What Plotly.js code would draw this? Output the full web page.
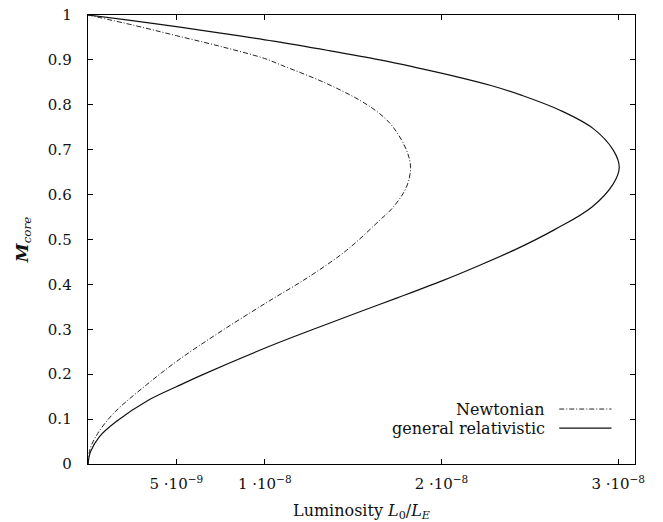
<!DOCTYPE html>
<html>
<head>
<meta charset="utf-8">
<script src="https://cdn.plot.ly/plotly-3.0.1.min.js"></script>
<style>html,body{margin:0;padding:0;background:#fff;}#chart{width:663px;height:522px;}</style>
</head>
<body>
<div id="chart"></div>
<script>
// Core mass fraction (y) vs luminosity L0/LE (x)
const grMass = [0, 0.027, 0.061, 0.094, 0.142, 0.172, 0.198, 0.261, 0.30, 0.339, 0.37, 0.409, 0.44, 0.478, 0.522, 0.572, 0.624, 0.661, 0.699, 0.747, 0.788, 0.821, 0.843, 0.865, 0.884, 0.90, 0.921, 0.942, 0.958, 0.973, 0.988, 1.0];
const grLum = [0, 0.014e-8, 0.065e-8, 0.158e-8, 0.341e-8, 0.5e-8, 0.643e-8, 1.02e-8, 1.275e-8, 1.538e-8, 1.75e-8, 2.01e-8, 2.2e-8, 2.42e-8, 2.64e-8, 2.85e-8, 2.972e-8, 3.006e-8, 2.972e-8, 2.859e-8, 2.67e-8, 2.455e-8, 2.28e-8, 2.06e-8, 1.845e-8, 1.651e-8, 1.36e-8, 1.05e-8, 0.78e-8, 0.52e-8, 0.24e-8, 0];

const nMass = [0, 0.035, 0.068, 0.113, 0.176, 0.231, 0.291, 0.357, 0.417, 0.476, 0.543, 0.572, 0.617, 0.661, 0.699, 0.75, 0.78, 0.81, 0.85, 0.888, 0.903, 0.93, 0.954, 0.977, 1.0];
const nLum = [0, 0.013e-8, 0.055e-8, 0.145e-8, 0.33e-8, 0.51e-8, 0.735e-8, 1.0e-8, 1.25e-8, 1.463e-8, 1.651e-8, 1.727e-8, 1.802e-8, 1.825e-8, 1.802e-8, 1.727e-8, 1.651e-8, 1.538e-8, 1.335e-8, 1.096e-8, 1.0e-8, 0.75e-8, 0.5e-8, 0.26e-8, 0];

const xTickVals = [5e-9, 1e-8, 2e-8, 3e-8];
const xTickText = ['5 ·10<sup>−9</sup>', '1 ·10<sup>−8</sup>', '2 ·10<sup>−8</sup>', '3 ·10<sup>−8</sup>'];
const yTickVals = [0, 0.1, 0.2, 0.3, 0.4, 0.5, 0.6, 0.7, 0.8, 0.9, 1];
const yTickText = ['0', '0.1', '0.2', '0.3', '0.4', '0.5', '0.6', '0.7', '0.8', '0.9', '1'];
const seriesNames = ['Newtonian', 'general relativistic'];

const font = 'DejaVu Serif';

const traces = [
  {x: nLum, y: nMass, mode: 'lines', name: seriesNames[0], line: {color: '#222', width: 1, dash: '5px,2px,1px,2px', shape: 'spline', smoothing: 1}},
  {x: grLum, y: grMass, mode: 'lines', name: seriesNames[1], line: {color: '#111', width: 1.2, shape: 'spline', smoothing: 1}}
];

const axisCommon = {
  showline: true, mirror: 'ticks', linecolor: '#000', linewidth: 1.3,
  ticks: 'inside', ticklen: 5, tickcolor: '#000', tickwidth: 1,
  showgrid: false, zeroline: false,
  tickfont: {family: font, size: 15, color: '#111'}
};

const layout = {
  width: 663, height: 522,
  margin: {l: 88, r: 28, t: 15, b: 58},
  paper_bgcolor: '#fff', plot_bgcolor: '#fff',
  showlegend: false,
  font: {family: font, color: '#111'},
  xaxis: Object.assign({}, axisCommon, {
    range: [0, 3.095e-8], tickmode: 'array', tickvals: xTickVals, ticktext: xTickText,
    ticklabelstandoff: 6,
    title: {text: 'Luminosity <i>L</i><sub>0</sub>/<i>L</i><sub><i>E</i></sub>', font: {family: font, size: 16, color: '#111'}, standoff: 12}
  }),
  yaxis: Object.assign({}, axisCommon, {
    range: [0, 1], tickmode: 'array', tickvals: yTickVals, ticktext: yTickText,
    ticklabelstandoff: 12,
    title: {text: '<b><i>M</i></b><sub><i>core</i></sub>', font: {family: font, size: 17, color: '#111'}, standoff: 15}
  }),
  annotations: [
    {xref: 'paper', yref: 'paper', x: 0.840, y: 0.1224, xanchor: 'right', yanchor: 'middle', text: seriesNames[0], showarrow: false, font: {family: font, size: 16, color: '#111'}},
    {xref: 'paper', yref: 'paper', x: 0.840, y: 0.080, xanchor: 'right', yanchor: 'middle', text: seriesNames[1], showarrow: false, font: {family: font, size: 16, color: '#111'}}
  ],
  shapes: [
    {type: 'line', xref: 'paper', yref: 'paper', x0: 0.8615, x1: 0.957, y0: 0.1224, y1: 0.1224, line: {color: '#222', width: 1, dash: '5px,2px,1px,2px'}},
    {type: 'line', xref: 'paper', yref: 'paper', x0: 0.8615, x1: 0.957, y0: 0.080, y1: 0.080, line: {color: '#111', width: 1.2}}
  ]
};

Plotly.newPlot('chart', traces, layout, {staticPlot: true, displayModeBar: false});
</script>
</body>
</html>
